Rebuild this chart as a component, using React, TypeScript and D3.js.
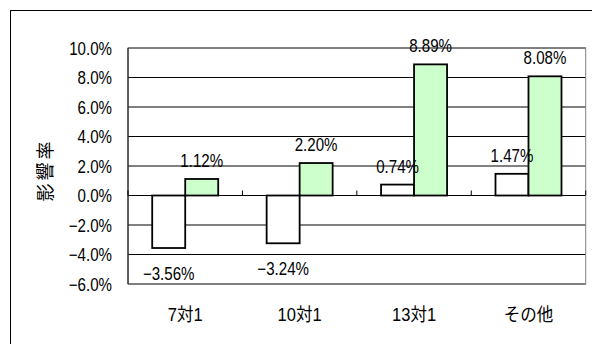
import React from 'react'
import * as d3 from 'd3'

// categories and the two series (in %)
const categories = ['7対1', '10対1', '13対1', 'その他']
const seriesNames = ['a', 'b']
const seriesA = [-3.56, -3.24, 0.74, 1.47]
const seriesB = [1.12, 2.2, 8.89, 8.08]
const yTicks = [-6, -4, -2, 0, 2, 4, 6, 8, 10]
const yTitle = '影響率'

const W = 592
const H = 344
const plot = { left: 128, right: 585.7, top: 48, bottom: 284 }

const fontFamily = '"Liberation Sans", "Noto Sans CJK JP", sans-serif'
const fills = ['#ffffff', '#ccffcc']
const squeeze = 0.84 // narrow digits like the original gothic face

const fmtTick = (v: number) => (v < 0 ? '−' : '') + Math.abs(v).toFixed(1) + '%'
const fmtVal = (v: number) => (v < 0 ? '−' : '') + Math.abs(v).toFixed(2) + '%'

const App = () => {
  const y = d3.scaleLinear().domain([-6, 10]).range([plot.bottom, plot.top])
  const x = d3.scaleBand().domain(categories).range([plot.left, plot.right]).paddingInner(0)
  const groupGap = (x.bandwidth() - 66) / 2
  const x1 = d3.scaleBand().domain(seriesNames).range([groupGap, x.bandwidth() - groupGap])

  const rows = categories.map((c, i) => ({ cat: c, values: [seriesA[i], seriesB[i]] }))
  const boundaries = [...categories.map(c => x(c) as number), plot.right]

  return (
    <svg
      width={W}
      height={H}
      viewBox={`0 0 ${W} ${H}`}
      style={{ position: 'absolute', left: 0, top: 0, display: 'block', background: '#fff' }}
      fontFamily={fontFamily}
    >
      <rect x={10.5} y={10.5} width={600} height={360} fill='#fff' stroke='#000' strokeWidth={1} />

      {/* grid */}
      {yTicks.map(t => (
        <line key={t} x1={plot.left} x2={plot.right} y1={y(t)} y2={y(t)} stroke='#000' strokeWidth={1} />
      ))}
      <rect
        x={plot.left}
        y={plot.top}
        width={plot.right - plot.left}
        height={plot.bottom - plot.top}
        fill='none'
        stroke='#808080'
        strokeWidth={1}
      />
      <line x1={plot.left} x2={plot.left} y1={plot.top} y2={plot.bottom} stroke='#000' strokeWidth={1} />

      {/* x ticks on zero line */}
      {boundaries.map((b, i) => (
        <line key={i} x1={b} x2={b} y1={y(0)} y2={y(0) - 5} stroke='#000' strokeWidth={1} />
      ))}

      {/* bars */}
      {rows.map(r => (
        <g key={r.cat} transform={`translate(${x(r.cat)},0)`}>
          {r.values.map((v, j) => (
            <rect
              key={j}
              x={x1(seriesNames[j])}
              y={y(Math.max(0, v))}
              width={x1.bandwidth()}
              height={Math.abs(y(v) - y(0))}
              fill={fills[j]}
              stroke='#000'
              strokeWidth={1.8}
            />
          ))}
        </g>
      ))}

      {/* value labels */}
      {rows.map(r => r.values.map((v, j) => {
        const lx = (x(r.cat) as number) + (x1(seriesNames[j]) as number) + x1.bandwidth() / 2
        const ly = v >= 0 ? y(v) - 12 : y(v) + 32
        return (
          <text
            key={r.cat + j}
            transform={`translate(${lx},${ly}) scale(${squeeze},1)`}
            textAnchor='middle'
            fontSize={18}
            fill='#000'
          >
            {fmtVal(v)}
          </text>
        )
      }))}

      {/* y tick labels */}
      {yTicks.map(t => (
        <text
          key={t}
          transform={`translate(112,${y(t)}) scale(${squeeze},1)`}
          dy='0.38em'
          textAnchor='end'
          fontSize={18}
          fill='#000'
        >
          {fmtTick(t)}
        </text>
      ))}

      {/* category labels */}
      {categories.map(c => (
        <text
          key={c}
          transform={`translate(${(x(c) as number) + x.bandwidth() / 2},321) scale(0.92,1)`}
          textAnchor='middle'
          fontSize={18}
          fill='#000'
        >
          {c}
        </text>
      ))}

      {/* y title */}
      <text
        transform='translate(52,170) rotate(-90)'
        textAnchor='middle'
        fontSize={18}
        letterSpacing={3}
        fill='#000'
      >
        {yTitle}
      </text>
    </svg>
  )
}

export default App
